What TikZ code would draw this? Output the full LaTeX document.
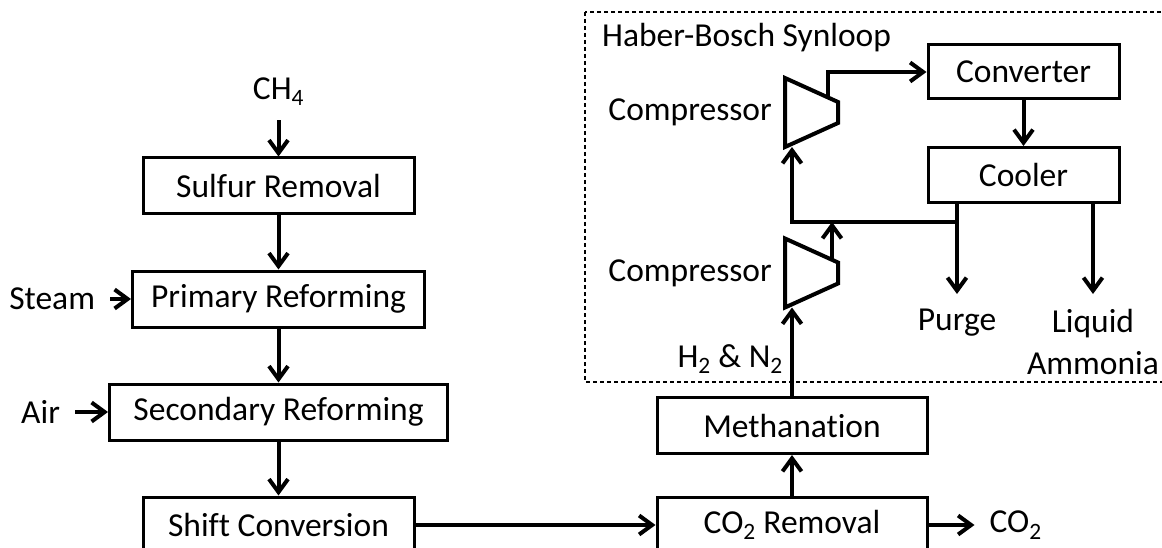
\documentclass[tikz,border=0pt]{standalone}
\usepackage{fontspec}
\setmainfont{Carlito}[Ligatures=NoCommon]
\usetikzlibrary{arrows.meta, positioning, calc}

\begin{document}
\begin{tikzpicture}[
    x=1pt, y=-1pt,
    font=\fontsize{33.5}{42}\selectfont,
    unit/.style={draw, line width=3pt, minimum height=56pt, inner sep=0pt, align=center},
    io/.style={inner sep=0pt, outer sep=15pt, align=center},
    lbl/.style={inner sep=0pt},
    comp/.style={minimum width=53pt, minimum height=69pt, inner sep=0pt, outer sep=0pt},
    compline/.style={line width=4pt, line join=miter},
    arrow/.style={-{Straight Barb[length=13pt, width=19pt]}, line width=4pt},
    loopframe/.style={line width=1.2pt, dash pattern=on 4pt off 3pt}
]
    \useasboundingbox (0,0) rectangle (1162,548);
    \clip (0,0) rectangle (1162,548);

    % Synthesis gas train
    \node[unit, minimum width=271pt] (sulfur) at (278.5,186) {Sulfur Removal};
    \node[unit, minimum width=292pt, below=54pt of sulfur] (primary) {Primary Reforming};
    \node[unit, minimum width=338pt, below=54pt of primary] (secondary) {Secondary Reforming};
    \node[unit, minimum width=271pt, below=54pt of secondary] (shift) {Shift Conversion};
    \node[unit, minimum width=270pt, right=240pt of shift] (co2rem) {CO\textsubscript{2} Removal};
    \node[unit, minimum width=270pt, above=40.5pt of co2rem] (methan) {Methanation};

    % Feeds and products
    \node[io, above=36pt of sulfur] (ch4) {CH\textsubscript{4}};
    \node[io, left=21pt of primary] (steam) {Steam};
    \node[io, left=33pt of secondary] (air) {Air};
    \node[io, right=46pt of co2rem] (co2out) {CO\textsubscript{2}};

    % Synloop
    \draw[loopframe] (585,12) rectangle (1175,382);
    \node[lbl, anchor=west] (title) at (602,38) {Haber-Bosch Synloop};
    \node[unit, minimum width=191pt, minimum height=54pt] (converter) at (1023.5,72) {Converter};
    \node[unit, minimum width=191pt, minimum height=55pt, below=45.5pt of converter] (cooler) {Cooler};
    \node[io, anchor=north] (purge) at (957,294) {Purge};
    \node[io, anchor=north] (ammonia) at (1093,294) {Liquid\\Ammonia};

    % Compressors
    \node[comp] (comp1) at (811.5,112.5) {};
    \node[comp] (comp2) at (811.5,273) {};
    \draw[compline] (comp1.north west) -- ($(comp1.east)+(0,-10.5)$) coordinate (c1tr)
        -- ($(comp1.east)+(0,10.5)$) -- (comp1.south west) -- cycle;
    \draw[compline] (comp2.north west) -- ($(comp2.east)+(0,-10.5)$) coordinate (c2tr)
        -- ($(comp2.east)+(0,10.5)$) -- (comp2.south west) -- cycle;
    \coordinate (c1out) at ($(comp1.north west)!0.81!(c1tr)$);
    \coordinate (c2out) at ($(comp2.north west)!0.887!(c2tr)$);
    \node[lbl, left=13pt of comp1] (comp1lbl) {Compressor};
    \node[lbl, left=13pt of comp2] (comp2lbl) {Compressor};
    \node[lbl, anchor=east] (feed) at (783,359) {H\textsubscript{2} \& N\textsubscript{2}};
    \coordinate (split) at (957,222);

    % Arrows
    \draw[arrow] (ch4) -- (sulfur);
    \draw[arrow] (sulfur) -- (primary);
    \draw[arrow] (steam) -- (primary);
    \draw[arrow] (primary) -- (secondary);
    \draw[arrow] (air) -- (secondary);
    \draw[arrow] (secondary) -- (shift);
    \draw[arrow] (shift) -- (co2rem);
    \draw[arrow] (co2rem) -- (co2out);
    \draw[arrow] (co2rem) -- (methan);
    \draw[arrow] (methan) -- (methan |- comp2.south);
    \draw[arrow] (c2out) -- (c2out |- split);
    \draw[arrow] (split) -| (methan |- comp1.south);
    \draw[arrow] (c1out) |- (converter);
    \draw[arrow] (converter) -- (cooler);
    \draw[arrow] (cooler.south -| purge) -- (purge);
    \draw[arrow] (cooler.south -| ammonia) -- (ammonia);
\end{tikzpicture}
\end{document}
